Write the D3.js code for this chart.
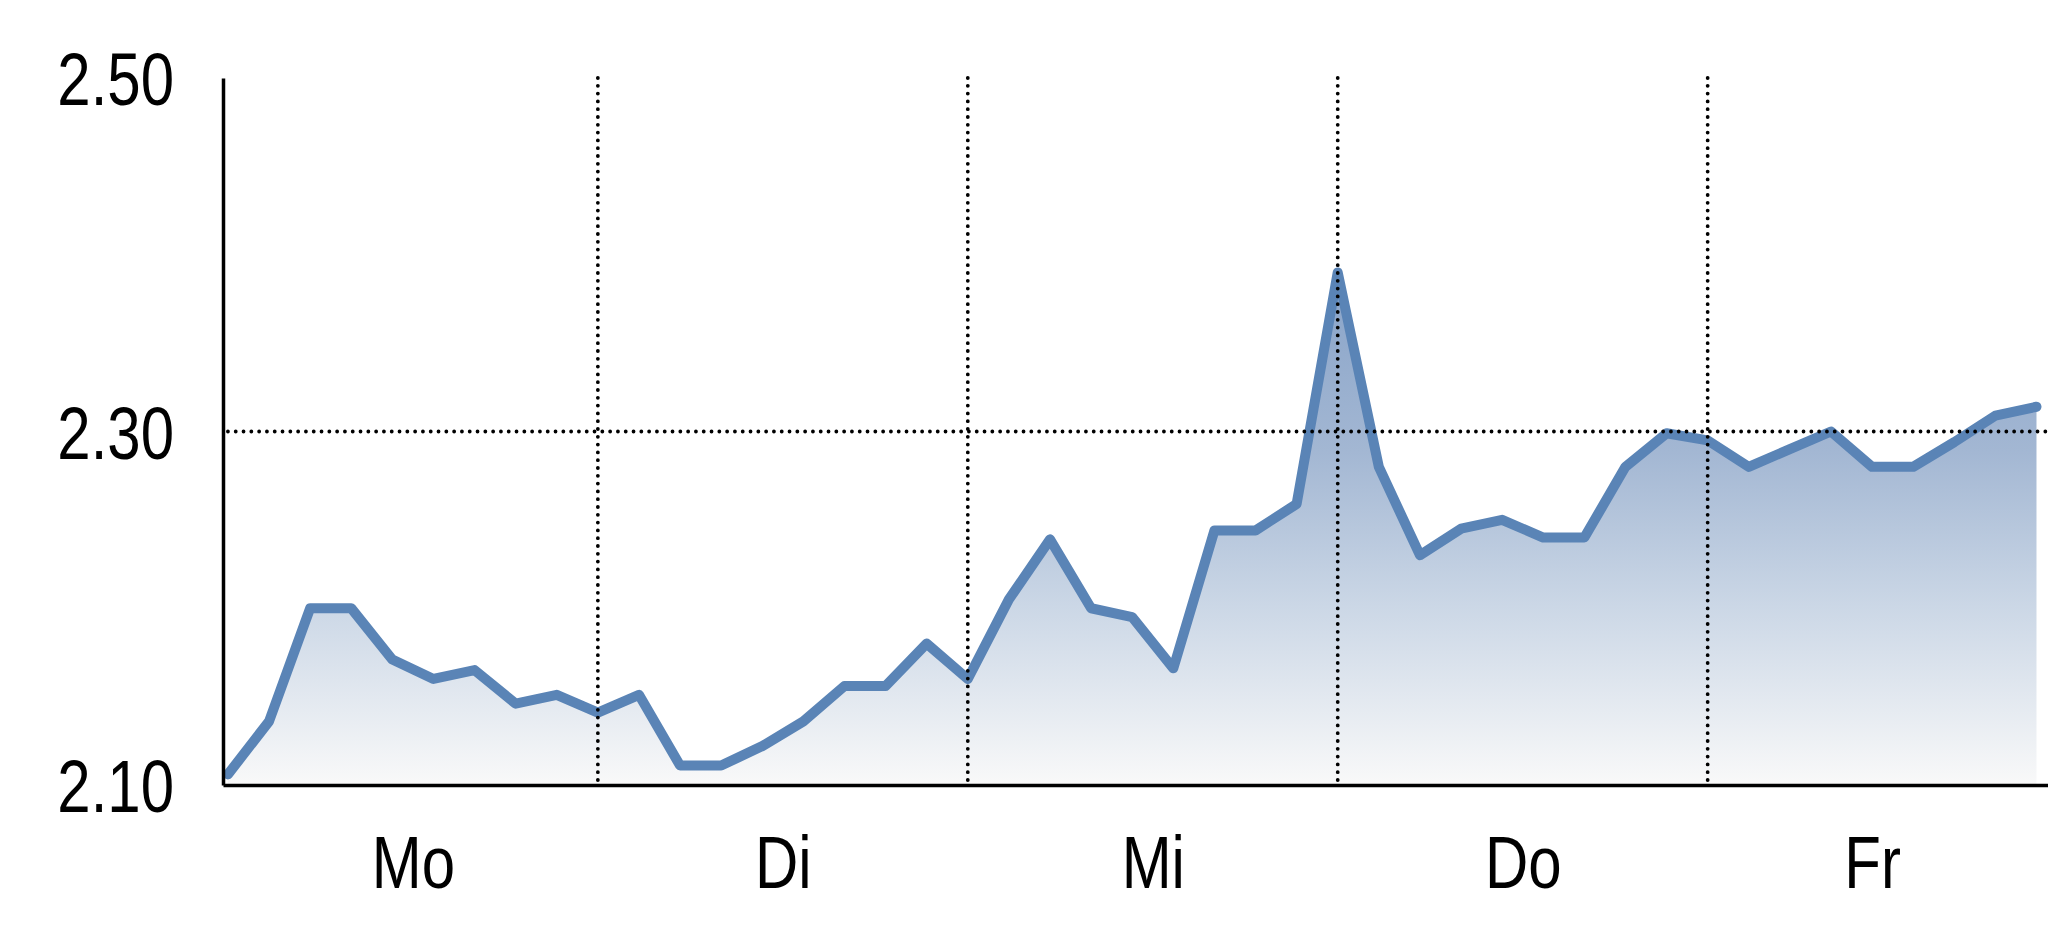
<!DOCTYPE html>
<html>
<head>
<meta charset="utf-8">
<script src="https://cdn.jsdelivr.net/npm/d3@7"></script>
<style>
html,body{margin:0;padding:0;background:#ffffff;overflow:hidden}
svg{display:block}
</style>
</head>
<body>
<svg id="chart" width="2048" height="937"></svg>
<script>
// ---- data ----
const days = ["Mo", "Di", "Mi", "Do", "Fr"];
const pointsPerDay = 9;
const values = [
  // Mo
  2.106, 2.136, 2.200, 2.200, 2.171, 2.160, 2.165, 2.146, 2.151,
  // Di
  2.141, 2.151, 2.111, 2.111, 2.122, 2.136, 2.156, 2.156, 2.180,
  // Mi
  2.160, 2.205, 2.239, 2.200, 2.195, 2.166, 2.244, 2.244, 2.259,
  // Do
  2.390, 2.280, 2.230, 2.245, 2.250, 2.240, 2.240, 2.280, 2.299,
  // Fr
  2.295, 2.280, 2.290, 2.300, 2.280, 2.280, 2.294, 2.309, 2.314
];
const yTicks = [2.10, 2.30, 2.50];
const yGrid = [2.30];

// ---- layout ----
const svg = d3.select("#chart");
const FONT = "'Liberation Sans',Arial,sans-serif";
const NARROW = 0.81; // condensed look of the original typeface

const x = d3.scaleLinear().domain([-0.12, 44.28]).range([223, 2048]);
const y = d3.scaleLinear().domain([2.10, 2.50]).range([785, 78]);

const data = values.map((v, i) => ({ i, v }));
const last = values.length - 1;
const dayBounds = d3.range(1, days.length).map(d => d * pointsPerDay);
const dayCenters = days.map((d, k) => {
  const s = k * pointsPerDay;
  return (s + Math.min(s + pointsPerDay, last)) / 2;
});

// gradient
const defs = svg.append("defs");
const grad = defs.append("linearGradient")
  .attr("id", "fillGrad")
  .attr("gradientUnits", "userSpaceOnUse")
  .attr("x1", 0).attr("x2", 0)
  .attr("y1", y(d3.max(values))).attr("y2", y(2.10));
[[0, "#88a3c8"], [0.35, "#a3b7d3"], [0.65, "#cbd7e6"], [1, "#f9f9f9"]]
  .forEach(([o, c]) => grad.append("stop").attr("offset", o).attr("stop-color", c));

// area
const area = d3.area().x(d => x(d.i)).y0(y(2.10)).y1(d => y(d.v));
svg.append("path").datum(data)
  .attr("d", area)
  .attr("fill", "url(#fillGrad)");

// line
const line = d3.line().x(d => x(d.i)).y(d => y(d.v));
svg.append("path").datum(data)
  .attr("d", line)
  .attr("fill", "none")
  .attr("stroke", "#5a84b6")
  .attr("stroke-width", 10)
  .attr("stroke-linejoin", "round")
  .attr("stroke-linecap", "round");

// grid lines (dotted, on top)
function dotted(sel) {
  sel.attr("stroke", "#000").attr("stroke-width", 3.8)
    .attr("stroke-linecap", "round")
    .attr("stroke-dasharray", "0 7.8");
}
svg.append("g").selectAll("line").data(yGrid).join("line")
  .attr("x1", x(0)).attr("x2", 2046)
  .attr("y1", d => y(d)).attr("y2", d => y(d))
  .call(dotted);

svg.append("g").selectAll("line").data(dayBounds).join("line")
  .attr("x1", d => x(d)).attr("x2", d => x(d))
  .attr("y1", y(2.50)).attr("y2", y(2.10))
  .call(dotted);

// y axis
const yAxis = svg.append("g")
  .attr("transform", `translate(${x.range()[0]},0)`)
  .call(d3.axisLeft(y).tickValues(yTicks).tickFormat(d3.format(".2f")).tickSize(0).tickPadding(49));
yAxis.select(".domain").attr("stroke", "#000").attr("stroke-width", 3.5);
yAxis.selectAll("text")
  .attr("font-family", FONT).attr("font-size", 74).attr("fill", "#000")
  .attr("x", -49 / NARROW)
  .attr("transform", `scale(${NARROW},1)`)
  .attr("dy", "0.36em");

// x axis
const xAxis = svg.append("g")
  .attr("transform", `translate(0,${y(2.10)})`)
  .call(d3.axisBottom(x).tickValues(dayCenters).tickFormat((d, k) => days[k]).tickSize(0));
xAxis.select(".domain").attr("stroke", "#000").attr("stroke-width", 3.5);
xAxis.selectAll("text")
  .attr("font-family", FONT).attr("font-size", 74).attr("fill", "#000")
  .attr("transform", `scale(${NARROW},1)`)
  .attr("y", 103).attr("dy", null);
</script>
</body>
</html>
